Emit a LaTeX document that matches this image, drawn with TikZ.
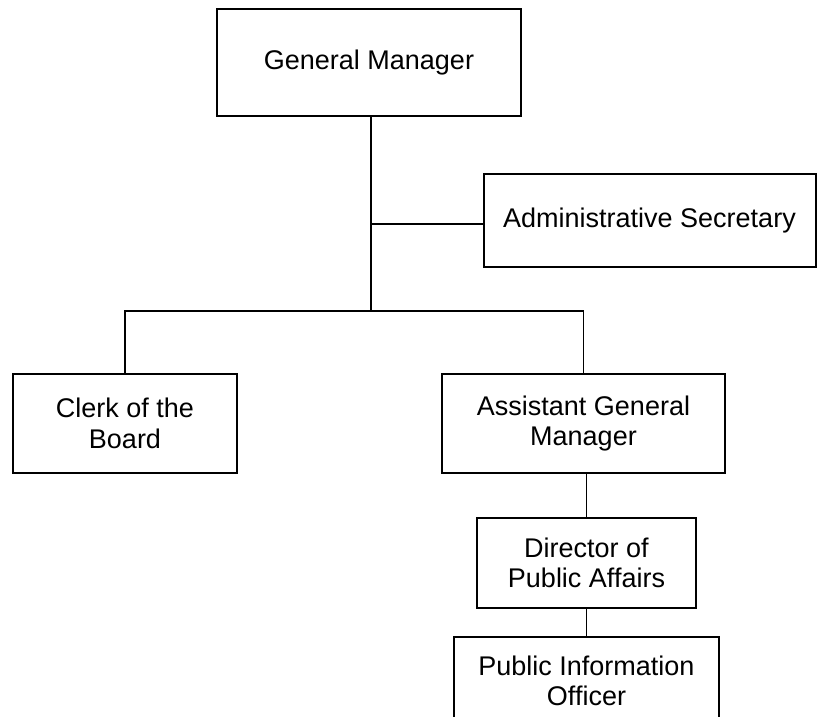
\documentclass[tikz,border=0pt]{standalone}
\usepackage{fontspec}
\setmainfont{Liberation Sans}
\usepackage{tikz}
\usetikzlibrary{positioning, calc}
\tikzset{
  link/.style ={line width=1.7pt},
  post/.style ={rectangle, draw, line width=2pt, align=center, inner sep=2pt,
                font=\fontsize{27}{30.5}\selectfont},
}

\begin{document}
\begin{tikzpicture}[x=1pt, y=-1pt]
  \useasboundingbox (0,0) rectangle (817,717);
  \clip (0,0) rectangle (817,717);
  % --- boxes ------------------------------------------------------------
  \node[post, minimum width=304pt, minimum height=107pt] (gm)    at (369,62.5)   {General Manager};
  \node[post, minimum width=332pt, minimum height=93pt]  (admin) at (649.5,220.5) {Administrative Secretary};
  \node[post, minimum width=224pt, minimum height=99pt]  (clerk) at (125,423.5)  {Clerk of the\\Board};
  \node[post, minimum width=283pt, minimum height=99pt]  (agm)   at (583.5,423.5) {Assistant General\\Manager};
  \node[post, minimum width=219pt, minimum height=90pt]  (dir)   at (586.5,563)  {Director of\\Public Affairs};
  \node[post, minimum width=265pt, minimum height=88pt]  (pio)   at (586.5,681)  {Public Information\\Officer};

  \coordinate (tee) at (371,224);
  \coordinate (hub) at (371,311);

  % --- connectors -------------------------------------------------------
  \draw[link] (gm.south -| hub) -- (hub);
  \draw[link] (tee) -- (tee -| admin.west);
  \draw[link] (clerk.north) |- (hub) -| (agm.north);
  \draw[link] (dir.north) -- (dir.north |- agm.south);
  \draw[link] (dir.south) -- (pio.north);
\end{tikzpicture}
\end{document}
